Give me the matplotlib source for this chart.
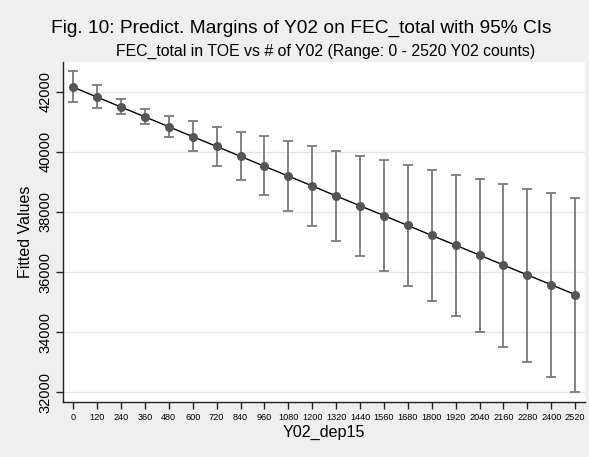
import matplotlib.pyplot as plt
import numpy as np

plt.rcParams['font.family'] = ['Liberation Sans', 'DejaVu Sans']

# Y02 counts and predicted margins
x_vals = [0, 120, 240, 360, 480, 600, 720, 840, 960, 1080, 1200,
          1320, 1440, 1560, 1680, 1800, 1920, 2040, 2160, 2280, 2400, 2520]
fitted = [42150, 41820, 41490, 41165, 40835, 40505, 40180, 39850, 39520,
          39195, 38865, 38535, 38205, 37880, 37550, 37220, 36895, 36565,
          36235, 35905, 35580, 35250]
ci_low = [41665, 41475, 41255, 40930, 40490, 40025, 39540, 39055, 38550,
          38035, 37525, 37035, 36525, 36025, 35525, 35025, 34525, 34010,
          33510, 33005, 32495, 32000]
ci_high = [42675, 42210, 41765, 41430, 41205, 41010, 40840, 40675, 40520,
           40365, 40210, 40025, 39870, 39715, 39560, 39400, 39245, 39090,
           38935, 38780, 38625, 38470]
y_ticks = [32000, 34000, 36000, 38000, 40000, 42000]

x = np.array(x_vals)
y = np.array(fitted)
yerr = np.array([y - np.array(ci_low), np.array(ci_high) - y])

fig = plt.figure(figsize=(5.89, 4.57), dpi=100)
fig.patch.set_facecolor('#efefef')
ax = fig.add_axes([0.1075, 0.1197, 0.8858, 0.744])
ax.set_facecolor('white')

ax.errorbar(x, y, yerr=yerr, fmt='none', ecolor='#7a7a7a', elinewidth=1.3,
            capsize=3.3, capthick=1.3, zorder=2)
ax.plot(x, y, color='black', lw=1.0, zorder=3)
ax.plot(x, y, 'o', color='#555555', ms=5.5, zorder=4)

ax.set_xlim(-50, 2570)
ax.set_ylim(31667, 42980)
ax.set_xticks(x_vals)
ax.set_xticklabels([str(v) for v in x_vals], fontsize=6.6)
ax.set_yticks(y_ticks)
ax.set_yticklabels([str(v) for v in y_ticks], fontsize=10.5, rotation=90,
                   va='center')
ax.grid(axis='y', color='#e6e6e6', lw=1.0)
ax.set_axisbelow(True)
for s in ['top', 'right']:
    ax.spines[s].set_visible(False)
for s in ['left', 'bottom']:
    ax.spines[s].set_color('#222222')
    ax.spines[s].set_linewidth(1.0)
ax.tick_params(axis='both', direction='out', length=5, width=1.0,
               color='#222222', pad=3)

ax.set_xlabel('Y02_dep15', fontsize=11.6, labelpad=2)
ax.set_ylabel('Fitted Values', fontsize=11.5, labelpad=4)

fig.text(0.512, 0.9278, 'Fig. 10: Predict. Margins of Y02 on FEC_total with 95% CIs',
         ha='center', va='baseline', fontsize=13.8)
fig.text(0.553, 0.8775, 'FEC_total in TOE vs # of Y02 (Range: 0 - 2520 Y02 counts)',
         ha='center', va='baseline', fontsize=11.4)

plt.savefig('out.png', dpi=100, facecolor=fig.get_facecolor())
